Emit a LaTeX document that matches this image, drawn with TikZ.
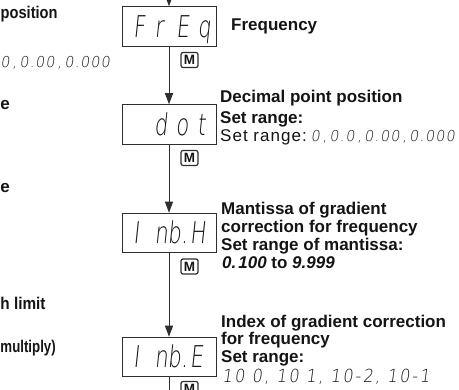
\documentclass[tikz,border=0pt]{standalone}
\usepackage{fontspec}
\usepackage{graphicx}
\setmainfont{Liberation Sans}
\newfontfamily\rgfont{Liberation Sans}[LetterSpace=6]
\newfontfamily\segbigfont{DejaVuSans-ExtraLight.ttf}[FakeSlant=0.15]
\newfontfamily\segsmfont{DejaVuSans-ExtraLight.ttf}[FakeSlant=0.15, LetterSpace=8]
\newfontfamily\segwdfont{DejaVuSans-ExtraLight.ttf}[FakeSlant=0.15, LetterSpace=12]
\usetikzlibrary{arrows.meta}
\definecolor{ln}{HTML}{2E2E2E}
\definecolor{tx}{HTML}{141414}
\newcommand\dg[2][30.7pt]{\makebox[#1][l]{#2}}
\newcommand\segbig{\segbigfont\fontsize{30}{30}\selectfont}
\newcommand\segsm{\segsmfont\fontsize{15}{16}\selectfont}
\newcommand\segwd{\segwdfont\fontsize{18}{18}\selectfont}
\newcommand\segbd{\bfseries\itshape\fontsize{17}{17}\selectfont}
\newcommand\cm{\hspace{2.8pt},\hspace{2.8pt}}
\begin{document}
\begin{tikzpicture}[x=1pt,y=-1pt,
  lcd/.style={draw=ln, line width=1pt, fill=white, minimum width=94pt, minimum height=39.5pt, inner sep=0pt},
  mkey/.style={draw=ln, line width=1.2pt, rounded corners=2pt, minimum width=17pt, minimum height=15pt, inner sep=0pt, text=tx, font=\bfseries\fontsize{13.5}{13.5}\selectfont},
  flow/.style={draw=ln, line width=1pt, -{Triangle[width=8pt,length=11pt]}},
  plain/.style={draw=ln, line width=1pt},
  seglbl/.style={anchor=base west, inner sep=0pt, text=tx},
  hd/.style={anchor=base west, inner sep=0pt, text=tx, font=\bfseries\fontsize{17}{19}\selectfont},
  rg/.style={anchor=base west, inner sep=0pt, text=tx, font=\rgfont\fontsize{17}{19}\selectfont}
]
\useasboundingbox (0,0) rectangle (459,390);
\clip (0,0) rectangle (459,390);

% left column (cut off in the reference)
\node[hd] (lpos) at (0.5,19) {\scalebox{0.86}[1]{position}};
\node[hd] (lrng) at (0.5,68) {\scalebox{0.95}[1]{\segsm 0\cm 0.00\cm 0.000}};
\node[hd] (le1) at (0.3,110) {e};
\node[hd] (le2) at (0.3,193) {e};
\node[hd] (llim) at (0.3,309.5) {\scalebox{0.9}[1]{h limit}};
\node[hd] (lmul) at (0.3,353) {\scalebox{0.78}[1]{multiply)}};

% display boxes
\node[lcd] (b1) at (169,26.5) {};
\node[lcd] (b2) at (169,124.5) {};
\node[lcd] (b3) at (169,233) {};
\node[lcd] (b4) at (169,357) {};

\node[seglbl] (s1) at (133,37.5) {\scalebox{0.7}[1]{\segbig\dg{F}\dg{r}\dg{E}q}};
\node[seglbl] (s2) at (154,135.5) {\scalebox{0.7}[1]{\segbig\dg{d}\dg{o}t}};
\node[seglbl] (s3) at (133,244) {\scalebox{0.7}[1]{\segbig\dg{I}\dg[18.6pt]{n}b.\kern3pt H}};
\node[seglbl] (s4) at (133,368) {\scalebox{0.7}[1]{\segbig\dg{I}\dg[18.6pt]{n}b.\kern3pt E}};

% M keys
\node[mkey] (k1) at (189.5,60) {M};
\node[mkey] (k2) at (189.5,158) {M};
\node[mkey] (k3) at (189.5,266.5) {M};
\node[mkey] (k4) at (189.5,389) {M};

% connectors
\coordinate (top) at (169,-15);
\coordinate (bot) at (169,400);
\draw[flow] (top) -- (b1.north);
\draw[flow] (b1.south) -- (b2.north);
\draw[flow] (b2.south) -- (b3.north);
\draw[flow] (b3.south) -- (b4.north);
\draw[plain] (b4.south) -- (bot);

% right column texts
\node[hd] (f1) at (231,31) {Frequency};

\node[hd] (d1) at (220,103) {Decimal point position};
\node[hd] (d2) at (220,124) {Set range:};
\node[rg] (d3) at (220,142) {Set range:\hspace{4pt}\scalebox{0.95}[1]{\segsm 0\cm 0.0\cm 0.00\cm 0.000}};

\node[hd] (m1) at (221,215) {Mantissa of gradient};
\node[hd] (m2) at (221,233) {correction for frequency};
\node[hd] (m3) at (221,251) {Set range of mantissa:};
\node[hd] (m4) at (222,269) {{\segbd 0.\hspace{2pt}100} to {\segbd 9.999}};

\node[hd] (i1) at (221,328) {Index of gradient correction};
\node[hd] (i2) at (221,345) {for frequency};
\node[hd] (i3) at (221,363) {Set range:};
\node[hd] (i4) at (222,383) {\scalebox{0.9}[1]{\segwd 10 0, 10 1, 10-2, 10-1}};
\end{tikzpicture}
\end{document}
